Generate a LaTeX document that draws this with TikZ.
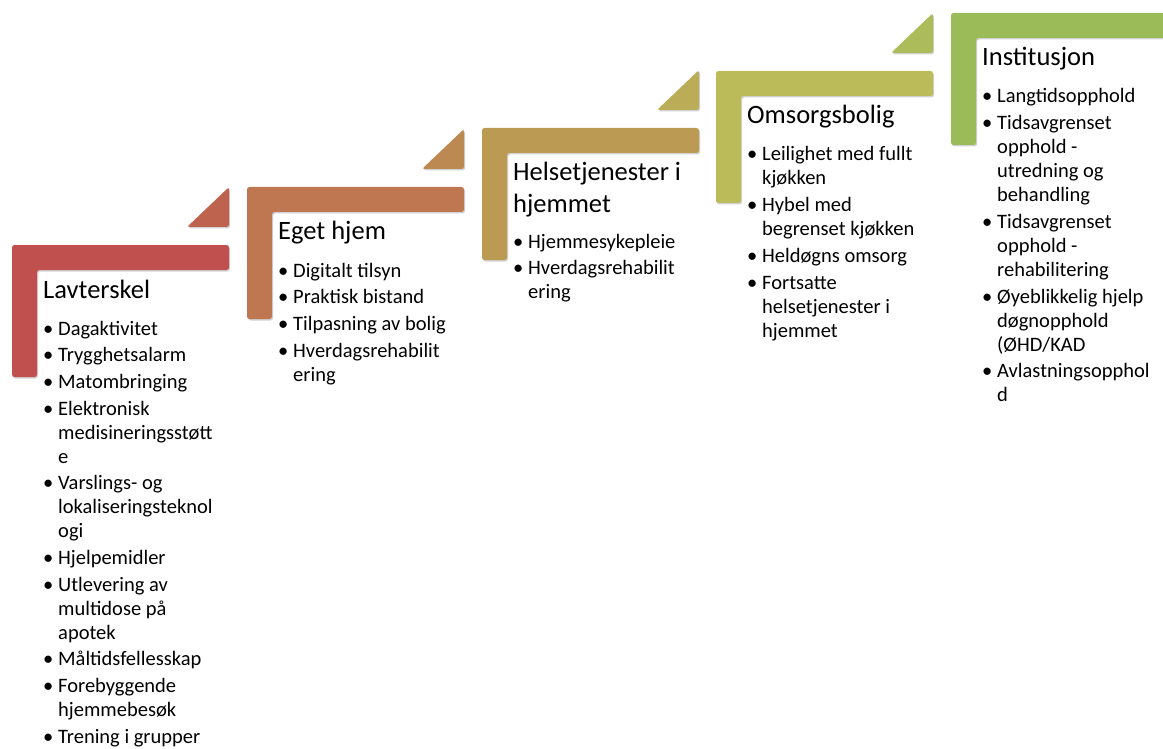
\documentclass[tikz,border=0pt]{standalone}
\usepackage{fontspec}
\setmainfont{Carlito}
\usetikzlibrary{shadows}
\definecolor{sA}{RGB}{192,80,77}
\definecolor{tA}{RGB}{190,100,78}
\definecolor{sB}{RGB}{190,119,80}
\definecolor{tB}{RGB}{189,137,82}
\definecolor{sC}{RGB}{187,154,83}
\definecolor{tC}{RGB}{187,172,87}
\definecolor{sD}{RGB}{187,187,90}
\definecolor{tD}{RGB}{173,188,90}
\definecolor{sE}{RGB}{155,187,89}
\newcommand\bl{\textbullet}
\newcommand\nx{\\[2.7pt]}
\begin{document}
\begin{tikzpicture}[x=1pt,y=-1pt,
  shp/.style={rounded corners=2.5pt, drop shadow={shadow xshift=1pt, shadow yshift=-1.5pt, fill=black, opacity=0.18}},
  ttl/.style={anchor=base west, inner sep=0pt, font=\fontsize{26.5}{32.3}\selectfont, align=left},
  lst/.style={anchor=base west, inner sep=0pt, font=\fontsize{20.5}{24}\selectfont}]
\useasboundingbox (0,0) rectangle (1163,749);
\clip (0,0) rectangle (1163,749);
\newcommand\stepL[3]{%
  \begin{scope}[shift={(#1,#2)}]
    \path[shp, fill=#3] (0,0) -- (217,0) -- (217,25) -- (25,25) -- (25,132) -- (0,132) -- cycle;
  \end{scope}}
\newcommand\tri[3]{%
  \begin{scope}[shift={(#1,#2)}]
    \path[shp, fill=#3] (217,-18) -- (217,-58) -- (175,-18) -- cycle;
  \end{scope}}
\stepL{12}{245}{sA}
\tri{12}{245}{tA}
\stepL{247}{187}{sB}
\tri{247}{187}{tB}
\stepL{482}{128}{sC}
\tri{482}{128}{tC}
\stepL{716}{71}{sD}
\tri{716}{71}{tD}
\stepL{951}{13}{sE}
% titles
\node[ttl] (t1) at (43,298) {Lavterskel};
\node[ttl] (t2) at (278,240) {Eget hjem};
\node[ttl] (t3) at (513,213) {Helsetjenester i\\hjemmet};
\node[ttl] (t4) at (747,124) {Omsorgsbolig};
\node[ttl] (t5) at (982,66) {Institusjon};
% lists
\node[lst] (l1) at (43,335) {\begin{tabular}[t]{@{}p{15pt}@{}l@{}}
\bl & Dagaktivitet\nx
\bl & Trygghetsalarm\nx
\bl & Matombringing\nx
\bl & Elektronisk\\ & medisineringsstøtt\\ & e\nx
\bl & Varslings- og\\ & lokaliseringsteknol\\ & ogi\nx
\bl & Hjelpemidler\nx
\bl & Utlevering av\\ & multidose på\\ & apotek\nx
\bl & Måltidsfellesskap\nx
\bl & Forebyggende\\ & hjemmebesøk\nx
\bl & Trening i grupper
\end{tabular}};
\node[lst] (l2) at (278,277) {\begin{tabular}[t]{@{}p{15pt}@{}l@{}}
\bl & Digitalt tilsyn\nx
\bl & Praktisk bistand\nx
\bl & Tilpasning av bolig\nx
\bl & Hverdagsrehabilit\\ & ering
\end{tabular}};
\node[lst] (l3) at (513,248) {\begin{tabular}[t]{@{}p{15pt}@{}l@{}}
\bl & Hjemmesykepleie\nx
\bl & Hverdagsrehabilit\\ & ering
\end{tabular}};
\node[lst] (l4) at (747,161) {\begin{tabular}[t]{@{}p{15pt}@{}l@{}}
\bl & Leilighet med fullt\\ & kjøkken\nx
\bl & Hybel med\\ & begrenset kjøkken\nx
\bl & Heldøgns omsorg\nx
\bl & Fortsatte\\ & helsetjenester i\\ & hjemmet
\end{tabular}};
\node[lst] (l5) at (982,103) {\begin{tabular}[t]{@{}p{15pt}@{}l@{}}
\bl & Langtidsopphold\nx
\bl & Tidsavgrenset\\ & opphold -\\ & utredning og\\ & behandling\nx
\bl & Tidsavgrenset\\ & opphold -\\ & rehabilitering\nx
\bl & Øyeblikkelig hjelp\\ & døgnopphold\\ & (ØHD/KAD\nx
\bl & Avlastningsopphol\\ & d
\end{tabular}};
\end{tikzpicture}
\end{document}
